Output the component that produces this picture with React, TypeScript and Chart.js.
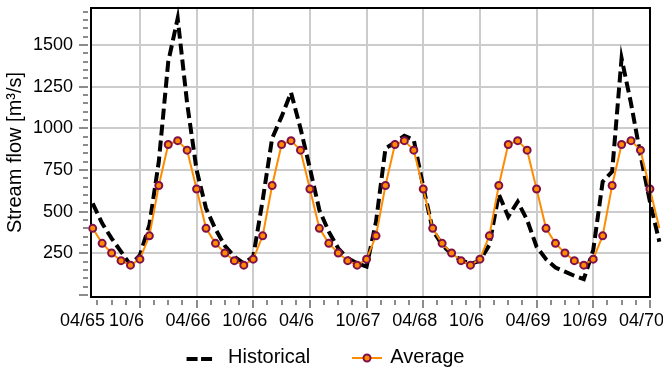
import React, { useEffect, useRef } from 'react';
import { Chart, registerables } from 'chart.js';

Chart.register(...registerables);

const FONT = "'Liberation Sans', Arial, Helvetica, sans-serif";

// Monthly series, index 0 = 04/1965 ... index 60 = 04/1970
const historical = [
  550, 430, 340, 260, 180, 240, 420, 800, 1400, 1660, 1150, 750,
  520, 395, 295, 230, 190, 230, 570, 940, 1070, 1215, 1000, 760,
  510, 380, 280, 220, 190, 170, 440, 880, 915, 955, 930, 650,
  390, 300, 245, 210, 186, 205, 300, 605, 470, 560, 450, 290,
  215, 165, 140, 115, 95, 270, 680, 740, 1420, 1150, 840, 560,
  320,
];

const average = [
  400, 310, 252, 206, 179, 215, 355, 657, 903, 926, 869, 636,
  400, 310, 252, 206, 179, 215, 355, 657, 903, 926, 869, 636,
  400, 310, 252, 206, 179, 215, 355, 657, 903, 926, 869, 636,
  400, 310, 252, 206, 179, 215, 355, 657, 903, 926, 869, 636,
  400, 310, 252, 206, 179, 215, 355, 657, 903, 926, 869, 636,
  400,
];

const X_MIN = -0.18;
const X_MAX = 59.01;
const xTickPositions = [X_MIN, 5, 11, 17, 23, 29, 35, 41, 47, 53, 59];
const xTickLabels = ['04/65', '10/6', '04/66', '10/66', '04/6', '10/67', '04/68', '10/6', '04/69', '10/69', '04/70'];
const X_MINOR_STEP = 1.5;
const X_MINOR_START = 0.5;

const Y_MIN = -12;
const Y_MAX = 1722;
const yTickValues = [0, 250, 500, 750, 1000, 1250, 1500];
const Y_MINOR_STEP = 50;
const Y_MINOR_TOP = 1700;

const ORANGE = '#ff8c00';
const MAROON = '#80104a';
const GRID = '#cccccc';

const frameAndTicks = {
  id: 'frameAndTicks',
  afterDraw(chart: any) {
    const { ctx, chartArea, scales } = chart;
    const x = scales.x;
    const y = scales.y;
    ctx.save();
    ctx.strokeStyle = '#8c8c8c';
    ctx.lineWidth = 2;
    ctx.beginPath();
    for (let v = 0; v <= Y_MINOR_TOP + 1e-6; v += Y_MINOR_STEP) {
      const py = Math.round(y.getPixelForValue(v));
      const major = yTickValues.includes(v);
      ctx.moveTo(chartArea.left - (major ? 12 : 8), py);
      ctx.lineTo(chartArea.left - 3, py);
    }
    for (let v = X_MINOR_START; v <= X_MAX + 1e-6; v += X_MINOR_STEP) {
      const px = Math.round(x.getPixelForValue(v));
      const major = xTickPositions.some((t) => Math.abs(t - v) < 1e-6);
      ctx.moveTo(px, chartArea.bottom + 3);
      ctx.lineTo(px, chartArea.bottom + (major ? 11 : 8));
    }
    ctx.stroke();
    ctx.strokeStyle = '#000';
    ctx.lineWidth = 2;
    ctx.beginPath();
    ctx.moveTo(chartArea.left - 1, chartArea.bottom);
    ctx.lineTo(chartArea.right, chartArea.bottom);
    ctx.lineTo(chartArea.right, chartArea.top);
    ctx.lineTo(chartArea.left, chartArea.top);
    ctx.stroke();
    ctx.restore();
  },
};

// Legend below the axis: sample line (+ marker) followed by the dataset label
const bottomLegend = {
  id: 'bottomLegend',
  afterDraw(chart: any) {
    const { ctx, width } = chart;
    const dsets = chart.data.datasets;
    const sampleW = [25.5, 30];
    const gapW = [16, 8.3];
    const spacing = 41.7;
    const baseline = 363;
    const lineY = 358;
    ctx.save();
    ctx.font = `20px ${FONT}`;
    ctx.textBaseline = 'alphabetic';
    ctx.textAlign = 'left';
    const widths = dsets.map((ds: any, i: number) => sampleW[i] + gapW[i] + ctx.measureText(ds.label).width);
    const total = widths.reduce((a: number, b: number) => a + b, 0) + spacing * (dsets.length - 1);
    let x = (width - total) / 2 - 6;
    dsets.forEach((ds: any, i: number) => {
      ctx.save();
      ctx.strokeStyle = ds.borderColor;
      ctx.lineWidth = ds.borderWidth;
      ctx.setLineDash(ds.borderDash ? [11, 3.5] : []);
      ctx.beginPath();
      const ly = ds.borderWidth % 2 === 0 ? lineY + (ds.pointRadius ? 0 : 1) : lineY + 0.5;
      ctx.moveTo(x, ly);
      ctx.lineTo(x + sampleW[i], ly);
      ctx.stroke();
      if (ds.pointRadius) {
        ctx.setLineDash([]);
        ctx.beginPath();
        ctx.arc(x + sampleW[i] / 2, ly, ds.pointRadius, 0, Math.PI * 2);
        ctx.fillStyle = ds.pointBackgroundColor;
        ctx.fill();
        ctx.lineWidth = ds.pointBorderWidth;
        ctx.strokeStyle = ds.pointBorderColor;
        ctx.stroke();
      }
      ctx.restore();
      ctx.fillStyle = '#000';
      ctx.fillText(ds.label, x + sampleW[i] + gapW[i], baseline);
      x += widths[i] + spacing;
    });
    ctx.restore();
  },
};

export default function App() {
  const ref = useRef<HTMLCanvasElement>(null);

  useEffect(() => {
    const canvas = ref.current;
    if (!canvas) return;
    const chart = new Chart(canvas, {
      type: 'line',
      data: {
        datasets: [
          {
            label: 'Historical',
            data: historical.map((v, i) => ({ x: i, y: v })),
            borderColor: '#000',
            borderWidth: 4,
            borderDash: [11, 5],
            pointRadius: 0,
            tension: 0,
            fill: false,
            clip: false,
            order: 1,
          },
          {
            label: 'Average',
            data: average.map((v, i) => ({ x: i, y: v })),
            borderColor: ORANGE,
            borderWidth: 2,
            pointRadius: 3.5,
            pointBackgroundColor: ORANGE,
            pointBorderColor: MAROON,
            pointBorderWidth: 2,
            tension: 0,
            fill: false,
            clip: false,
            order: 0,
          },
        ],
      } as any,
      options: {
        animation: false,
        responsive: false,
        events: [],
        layout: { padding: { left: 0, top: 8, right: 0, bottom: 33 } },
        scales: {
          x: {
            type: 'linear',
            min: X_MIN,
            max: X_MAX,
            bounds: 'data',
            afterBuildTicks: (scale: any) => {
              scale.ticks = xTickPositions.map((value) => ({ value }));
            },
            afterFit: (scale: any) => {
              scale.height = 40;
              scale.paddingLeft = 0;
              scale.paddingRight = 13;
            },
            ticks: {
              autoSkip: false,
              maxRotation: 0,
              minRotation: 0,
              align: 'start',
              labelOffset: -31,
              padding: 13,
              color: '#000',
              font: { family: FONT, size: 18 },
              callback: (_v: any, i: number) => xTickLabels[i],
            },
            grid: { color: GRID, lineWidth: 2, drawTicks: false },
            border: { display: false },
          },
          y: {
            type: 'linear',
            min: Y_MIN,
            max: Y_MAX,
            bounds: 'data',
            afterBuildTicks: (scale: any) => {
              scale.ticks = yTickValues.map((value) => ({ value }));
            },
            afterFit: (scale: any) => {
              scale.width = 91;
              scale.paddingTop = 0;
              scale.paddingBottom = 0;
            },
            ticks: {
              padding: 18,
              color: '#000',
              font: { family: FONT, size: 18 },
              callback: (v: any) => (v === 0 ? '' : String(v)),
            },
            grid: {
              color: (c: any) => (c.tick && c.tick.value === 0 ? 'rgba(0,0,0,0)' : GRID),
              lineWidth: 2,
              drawTicks: false,
            },
            border: { color: '#000', width: 2 },
            title: {
              display: true,
              text: 'Stream flow [m³/s]',
              color: '#000',
              font: { family: FONT, size: 20 },
              padding: { top: 3, bottom: 0 },
            },
          },
        },
        plugins: {
          tooltip: { enabled: false },
          legend: { display: false },
        },
      } as any,
      plugins: [frameAndTicks, bottomLegend],
    });
    return () => chart.destroy();
  }, []);

  return (
    <div style={{ position: 'fixed', left: 0, top: 0, width: 663, height: 370, background: '#fff' }}>
      <canvas ref={ref} width={663} height={370} style={{ display: 'block' }} />
    </div>
  );
}
